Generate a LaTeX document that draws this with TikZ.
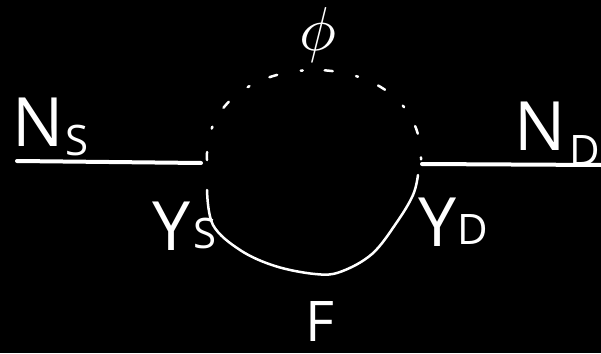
\documentclass[tikz,border=0pt]{standalone}
\usepackage{fontspec}
\setsansfont{Open Sans}
\begin{document}
\begin{tikzpicture}[x=1pt,y=-1pt,
  lbl/.style={text=white,inner sep=0pt,font=\sffamily},
  big/.style={lbl,font=\sffamily\fontsize{68}{70}\selectfont},
  small/.style={lbl,font=\sffamily\fontsize{42}{44}\selectfont},
  wire/.style={white,line width=4pt,line cap=round},
  curve/.style={white,line width=2.5pt,line cap=round}]
\fill[black] (0,0) rectangle (601,353);
\useasboundingbox (0,0) rectangle (601,353);
% horizontal leads
\coordinate (ls) at (17,161);
\coordinate (le) at (201,163);
\coordinate (rs) at (422,164);
\coordinate (re) at (601,165);
\draw[wire] (ls) -- (le);
\draw[wire] (rs) -- (re);
% dashed upper arc (phi)
\draw[white,line width=2.5pt,line cap=round,dash pattern=on 8pt off 24pt on 2pt off 22pt]
  (207,160) .. controls (202,42) and (424,38) .. (421,160);
% lower solid curve (F)
\draw[curve] plot[smooth,tension=0.6] coordinates
  {(207,190) (213,225) (240,250) (275,266) (315,274) (340,272) (372,254) (397,222) (413,195) (418,175)};
% labels
\node[big,anchor=base west] (N1) at (12,146) {N};
\node[small,anchor=base west] (S1) at (65,155) {S};
\node[big,anchor=base west] (N2) at (514,150) {N};
\node[small,anchor=base west] (D2) at (569,165) {D};
\node[big,anchor=base west] (Y1) at (152,250) {Y};
\node[small,anchor=base west] (S3) at (193,248) {S};
\node[big,anchor=base west] (Y2) at (418,246) {Y};
\node[small,anchor=base west] (D3) at (457,244) {D};
\node[lbl,anchor=base] (phi) at (318,51) {\scalebox{6.2}{$\phi$}};
\node[lbl,anchor=base,font=\sffamily\fontsize{56}{58}\selectfont] (F) at (320,341) {F};
\end{tikzpicture}
\end{document}
